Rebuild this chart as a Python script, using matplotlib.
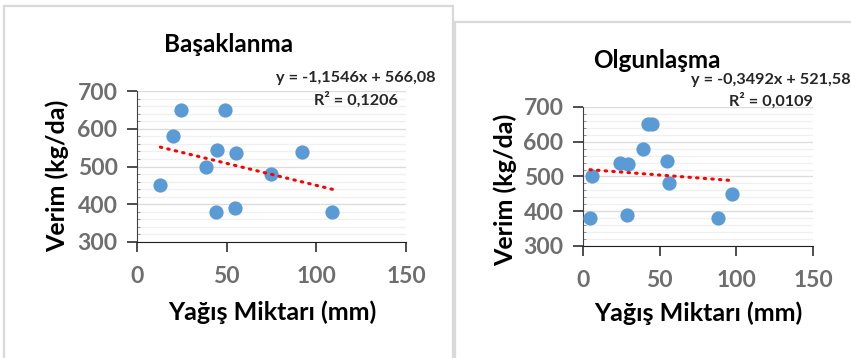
import numpy as np
import matplotlib
matplotlib.use("Agg")
import matplotlib.pyplot as plt
from matplotlib.patches import Rectangle
from matplotlib.ticker import MultipleLocator

plt.rcParams['font.family'] = ['Lato', 'DejaVu Sans']

# Başaklanma
bas_x = [13, 20, 24.5, 49, 44.5, 38.5, 55, 44, 54.5, 74.5, 92, 109]
bas_y = [450, 580, 650, 650, 545, 500, 535, 380, 390, 480, 538, 380]
# Olgunlaşma
olg_x = [4.5, 6, 24, 29.5, 29, 39, 42.5, 45, 55, 56, 88, 97]
olg_y = [380, 500, 540, 535, 390, 580, 650, 650, 545, 480, 380, 450]

titles = ['Başaklanma', 'Olgunlaşma']
equations = ['y = -1,1546x + 566,08', 'y = -0,3492x + 521,58']
r2_labels = ['R² = 0,1206', 'R² = 0,0109']
x_ticks = [0, 50, 100, 150]
y_ticks = [300, 400, 500, 600, 700]
x_label = 'Yağış Miktarı (mm)'
y_label = 'Verim (kg/da)'

W, H = 851, 358
fig = plt.figure(figsize=(W / 100, H / 100), dpi=100)


def fx(px):
    return px / W


def fy(py):
    return 1 - py / H


# panel frames (Excel chart borders)
fig.add_artist(Rectangle((fx(4), fy(380)), fx(449), (380 - 6) / H, transform=fig.transFigure,
                         fill=False, ec='#d9d9d9', lw=1.6))
fig.add_artist(Rectangle((fx(455), fy(380)), fx(420), (380 - 22) / H, transform=fig.transFigure,
                         fill=False, ec='#d9d9d9', lw=1.6))

# (axes box px, title pos, eq pos, r2 pos, ylabel pos, xlabel pos)
layouts = [
    dict(box=(137, 91, 406, 242), title=(229, 44), eq=(356, 78), r2=(356, 100),
         ylab=(57, 176), xlab=(272, 312)),
    dict(box=(583, 107, 813, 246), title=(657, 61), eq=(771, 80), r2=(771, 101),
         ylab=(505, 190), xlab=(698, 313)),
]
series = [(bas_x, bas_y), (olg_x, olg_y)]

for i, (xs, ys) in enumerate(series):
    lay = layouts[i]
    x0, y0, x1, y1 = lay['box']
    ax = fig.add_axes([fx(x0), fy(y1), (x1 - x0) / W, (y1 - y0) / H])

    ax.set_xlim(0, 150)
    ax.set_ylim(300, 700)
    ax.set_xticks(x_ticks)
    ax.set_yticks(y_ticks)
    ax.yaxis.set_minor_locator(MultipleLocator(20))
    ax.grid(which='major', axis='y', color='#dcdcdc', lw=1.0)
    ax.grid(which='minor', axis='y', color='#f0f0f0', lw=1.0)
    ax.set_axisbelow(True)

    for s in ['top', 'right']:
        ax.spines[s].set_visible(False)
    ax.spines['left'].set_color('#404040')
    ax.spines['bottom'].set_color('#202020')
    ax.tick_params(axis='both', which='major', direction='out', length=7, width=1.2,
                   labelsize=16.5, labelcolor='#6e6e6e', color='#303030')
    ax.tick_params(axis='y', which='minor', direction='in', length=2, color='#808080')
    ax.tick_params(axis='x', pad=10)
    ax.tick_params(axis='y', pad=7)
    for lb in ax.get_xticklabels() + ax.get_yticklabels():
        lb.set_fontweight('bold')

    ax.scatter(xs, ys, s=105, color='#5b9bd5', zorder=3, linewidths=0)

    coef = np.polyfit(xs, ys, 1)
    tx = np.array([min(xs), max(xs)])
    ax.plot(tx, np.polyval(coef, tx), color='#ff0000', lw=2.2,
            linestyle=(0, (0.5, 2.0)), dash_capstyle='round', zorder=4)

    fig.text(fx(lay['title'][0]), fy(lay['title'][1]), titles[i], ha='center', va='center',
             fontsize=17.5, fontweight='bold', color='black')
    fig.text(fx(lay['eq'][0]), fy(lay['eq'][1]), equations[i], ha='center', va='center',
             fontsize=11.7, fontweight='bold', color='#262626')
    fig.text(fx(lay['r2'][0]), fy(lay['r2'][1]), r2_labels[i], ha='center', va='center',
             fontsize=11.7, fontweight='bold', color='#262626')
    fig.text(fx(lay['ylab'][0]), fy(lay['ylab'][1]), y_label, ha='center', va='center',
             rotation=90, fontsize=18, fontweight='bold', color='black')
    fig.text(fx(lay['xlab'][0]), fy(lay['xlab'][1]), x_label, ha='center', va='center',
             fontsize=18, fontweight='bold', color='black')

fig.savefig('out.png', dpi=100)
